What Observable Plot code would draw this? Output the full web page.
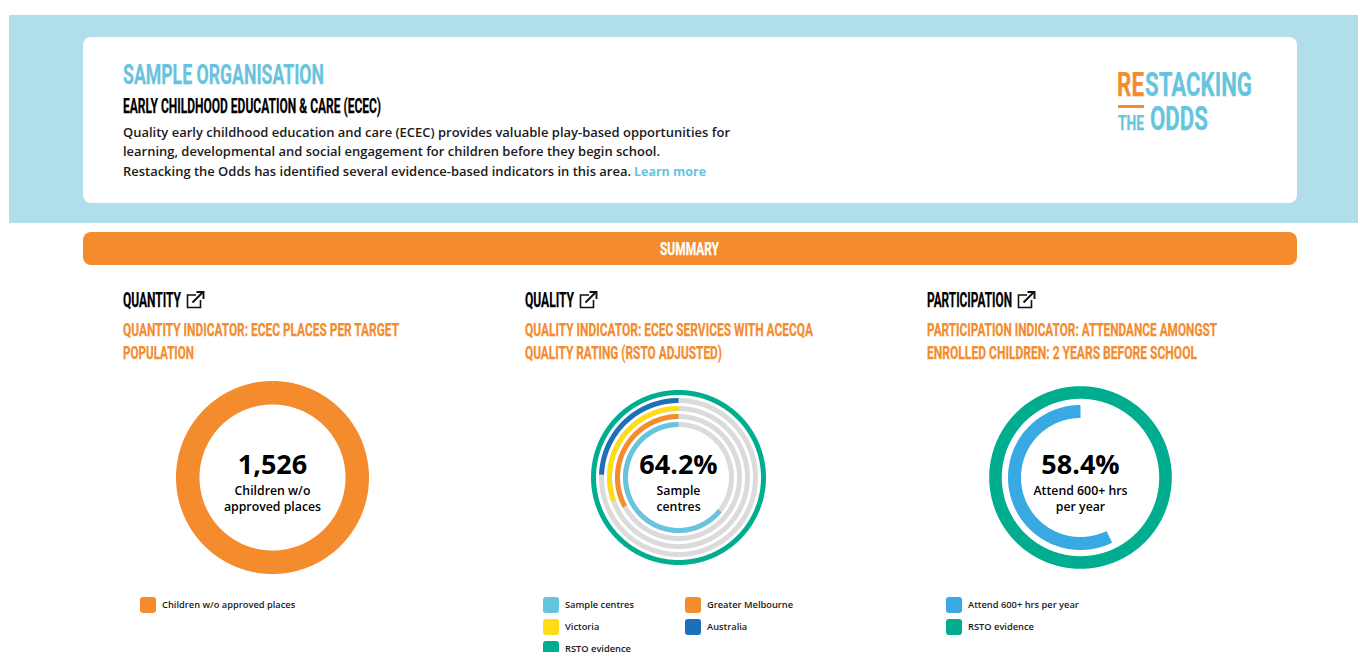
<!DOCTYPE html>
<html><head><meta charset="utf-8">
<script src="https://cdn.jsdelivr.net/npm/d3@7"></script>
<script src="https://cdn.jsdelivr.net/npm/@observablehq/plot@0.6"></script>
<style>
html,body{margin:0;padding:0;background:#fff;width:1358px;height:652px;overflow:hidden}
#page{position:relative;width:1358px;height:652px;overflow:hidden;font-family:"Open Sans",sans-serif}
.box{position:absolute}
.t{position:absolute;white-space:nowrap;transform-origin:0 50%}
.head{font-family:"Liberation Sans Narrow","Roboto",sans-serif;font-weight:700;-webkit-text-stroke:0.25px currentColor}
.chart{position:absolute}
.chart svg{display:block;background:transparent}
.sw{position:absolute;width:16px;height:16px;border-radius:3px}
</style></head><body><div id="page"></div>
<script>
// ---- text
const orgTitle = "SAMPLE ORGANISATION";
const sectionTitle = "EARLY CHILDHOOD EDUCATION & CARE (ECEC)";
const introLines = [
  "Quality early childhood education and care (ECEC) provides valuable play-based opportunities for",
  "learning, developmental and social engagement for children before they begin school.",
  "Restacking the Odds has identified several evidence-based indicators in this area. "
];
const learnMore = "Learn more";
const summaryLabel = "SUMMARY";
const columnTitles = ["QUANTITY", "QUALITY", "PARTICIPATION"];
const indicatorLines = [
  ["QUANTITY INDICATOR: ECEC PLACES PER TARGET", "POPULATION"],
  ["QUALITY INDICATOR: ECEC SERVICES WITH ACECQA", "QUALITY RATING (RSTO ADJUSTED)"],
  ["PARTICIPATION INDICATOR: ATTENDANCE AMONGST", "ENROLLED CHILDREN: 2 YEARS BEFORE SCHOOL"]
];
// ---- data
const quantitySeries = ["Children w/o approved places"];
const quantityValues = [100];
const qualitySeries = ["RSTO evidence", "Australia", "Victoria", "Greater Melbourne", "Sample centres"];
const qualityValues = [100, 24.4, 30.5, 32.9, 64.2];
const participationSeries = ["RSTO evidence", "Attend 600+ hrs per year"];
const participationValues = [100, 57.2];
const centreTexts = [
  ["1,526", "Children w/o", "approved places"],
  ["64.2%", "Sample", "centres"],
  ["58.4%", "Attend 600+ hrs", "per year"]
];
const legendOrder = [
  ["Children w/o approved places"],
  ["Sample centres", "Greater Melbourne", "Victoria", "Australia", "RSTO evidence"],
  ["Attend 600+ hrs per year", "RSTO evidence"]
];
const seriesColors = {
  "Children w/o approved places": "#F48C2E",
  "Sample centres": "#66C4DE",
  "Greater Melbourne": "#F48C2E",
  "Victoria": "#FFDD15",
  "Australia": "#1C6FB9",
  "RSTO evidence": "#00AE8F",
  "Attend 600+ hrs per year": "#38A9E3"
};
const trackColor = "#DBDBDB";

// ---- page helpers
const page = document.getElementById("page");
function box(x, y, w, h, bg, r) {
  const d = document.createElement("div");
  d.className = "box";
  d.style.cssText = `left:${x}px;top:${y}px;width:${w}px;height:${h}px;background:${bg};border-radius:${r||0}px`;
  page.appendChild(d); return d;
}
function text(s, x, cy, size, color, opts = {}) {
  const d = document.createElement("div");
  d.className = "t" + (opts.head ? " head" : "");
  d.textContent = s;
  const lh = Math.round(size * (opts.head ? 1.0 : 1.4));
  d.style.cssText = `left:${x}px;top:${cy - lh / 2}px;font-size:${size}px;line-height:${lh}px;color:${color};font-weight:${opts.weight || (opts.head ? 700 : 600)}`;
  page.appendChild(d);
  if (opts.width) {
    const w = d.getBoundingClientRect().width;
    d.style.transform = `scaleX(${opts.width / w})`;
  }
  return d;
}

// ---- frame
box(9, 15, 1349, 208, "#B0DEEB");
box(83, 37, 1214, 166, "#FFFFFF", 8);
box(83, 232, 1214, 33, "#F48C2E", 8);

text(orgTitle, 123, 75, 27, "#66C4DE", {head: true, width: 201});
text(sectionTitle, 123, 106.5, 19.5, "#000", {head: true, width: 258});
const introY = [131.5, 150.5, 170.5];
introLines.forEach((l, i) => text(l, 123, introY[i], 13, "#1a1a1a", {width: i == 0 ? 607 : i == 1 ? 537 : 508}));
text(learnMore, 634, introY[2], 13, "#66C4DE", {weight: 700, width: 72});

// logo
text("RE", 1117, 84, 34, "#F48C2E", {head: true, width: 27});
text("STACKING", 1145, 84, 34, "#66C4DE", {head: true, width: 107});
box(1118, 105, 26, 2.5, "#F48C2E");
text("THE", 1118, 123, 20, "#66C4DE", {head: true, width: 26});
text("ODDS", 1150, 118.5, 33, "#66C4DE", {head: true, width: 58});

text(summaryLabel, 660, 248.5, 18, "#FFFFFF", {head: true, width: 59});

// ---- columns
const colX = [123, 525, 927];
const titleW = [58, 49, 85];
const indicatorW = [[276, 71], [288, 197], [290, 270]];
colX.forEach((x, i) => {
  text(columnTitles[i], x, 300, 20, "#000", {head: true, width: titleW[i]});
  indicatorLines[i].forEach((l, j) =>
    text(l, x, 329 + j * 23.5, 19, "#F48C2E", {head: true, width: indicatorW[i][j]}));
  const ns = "http://www.w3.org/2000/svg";
  const ic = document.createElementNS(ns, "svg");
  ic.setAttribute("width", 19); ic.setAttribute("height", 18);
  ic.style.cssText = `position:absolute;left:${x + titleW[i] + 5}px;top:290.5px`;
  ic.innerHTML = `<path d="M10 4H1.5v12.5h13V9" fill="none" stroke="#111" stroke-width="1.6"/><path d="M6.5 11.5L16 2M10.5 1h7v7" fill="none" stroke="#111" stroke-width="1.9"/>`;
  page.appendChild(ic);
});

// ---- rings: every arc runs counter-clockwise from 12 o'clock, in pixel-like units
function arcPoints(series, pct, radius) {
  const n = Math.max(2, Math.round(pct * 7.2));
  return d3.range(n + 1).map(k => {
    const a = (k / n) * (pct / 100) * 2 * Math.PI;
    return {series, x: -radius * Math.sin(a), y: -radius * Math.cos(a)};
  });
}
function ringChart(cx, cy, rings, tracks, width, centre) {
  const hw = 100;
  const rows = rings.flatMap(r => arcPoints(r.series, r.value, r.radius));
  const trackRows = tracks.flatMap((rad, i) => arcPoints("track" + i, 100, rad));
  const chart = Plot.plot({
    width: 2 * hw, height: 2 * hw, margin: 0,
    x: {domain: [-hw, hw], range: [0, 2 * hw], axis: null},
    y: {domain: [-hw, hw], range: [0, 2 * hw], axis: null},
    style: {background: "transparent", overflow: "visible"},
    marks: [
      Plot.line(trackRows, {x: "x", y: "y", z: "series", stroke: trackColor, strokeWidth: width, strokeLinecap: "butt", curve: "linear"}),
      ...rings.map(r => Plot.line(rows.filter(d => d.series === r.series), {
        x: "x", y: "y", stroke: seriesColors[r.series], strokeWidth: r.width, strokeLinecap: "butt", curve: "linear"
      })),
      Plot.text([centre[0]], {x: 0, y: -12, text: d => d, fontFamily: "Open Sans", fontWeight: 700, fontSize: 27, fill: "#000", lineAnchor: "middle"}),
      Plot.text([centre[1]], {x: 0, y: 13.5, text: d => d, fontFamily: "Open Sans", fontWeight: 600, fontSize: 12.3, fill: "#000", lineAnchor: "middle"}),
      Plot.text([centre[2]], {x: 0, y: 29.5, text: d => d, fontFamily: "Open Sans", fontWeight: 600, fontSize: 12.3, fill: "#000", lineAnchor: "middle"})
    ]
  });
  const wrap = document.createElement("div");
  wrap.className = "chart";
  wrap.style.cssText = `left:${cx - hw}px;top:${cy - hw}px;width:${2 * hw}px;height:${2 * hw}px`;
  wrap.appendChild(chart);
  page.appendChild(wrap);
}
const qualityRadii = [85, 77, 69, 61, 53];
ringChart(272, 476.5,
  quantitySeries.map((series, i) => ({series, value: quantityValues[i], radius: 84.75, width: 23.5})),
  [], 0, centreTexts[0]);
ringChart(677.8, 476.5,
  qualitySeries.map((series, i) => ({series, value: qualityValues[i], radius: qualityRadii[i], width: 5})),
  qualityRadii.slice(1), 5, centreTexts[1]);
const participationRadii = [85, 66];
const participationWidths = [12.6, 13];
ringChart(1079.8, 476.5,
  participationSeries.map((series, i) => ({series, value: participationValues[i], radius: participationRadii[i], width: participationWidths[i]})),
  [], 0, centreTexts[2]);

// ---- legends
const legendCols = [[140], [543, 685], [946]];
const legendRows = [604, 626, 648];
legendOrder.forEach((names, c) => {
  const cols = legendCols[c];
  names.forEach((name, k) => {
    const x = cols[k % cols.length];
    const y = legendRows[Math.floor(k / cols.length)];
    const s = document.createElement("div");
    s.className = "sw";
    s.style.left = x + "px"; s.style.top = (y - 7.5) + "px"; s.style.background = seriesColors[name];
    page.appendChild(s);
    text(name, x + 22, y, 9.3, "#1a1a1a");
  });
});
</script></body></html>
